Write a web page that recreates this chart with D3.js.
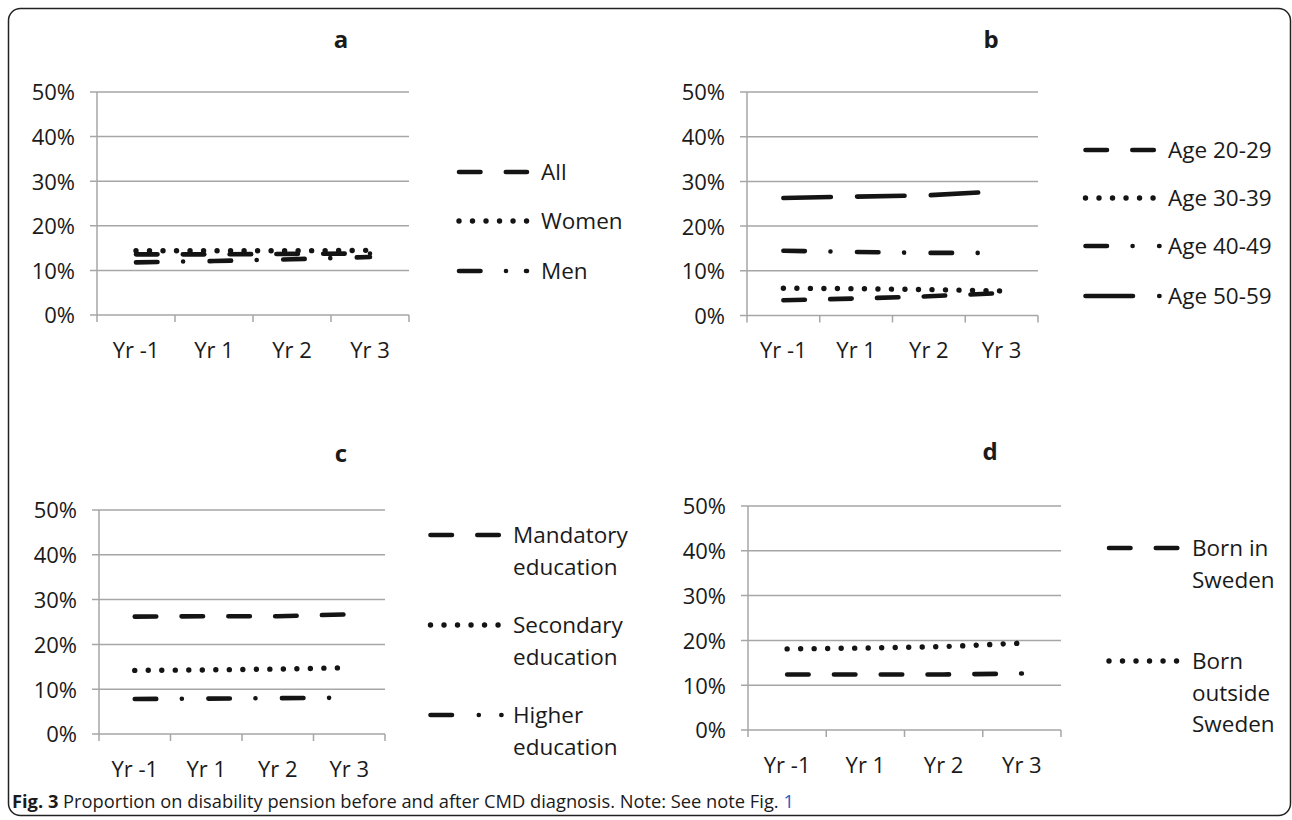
<!DOCTYPE html>
<html>
<head>
<meta charset="utf-8">
<script src="https://cdn.jsdelivr.net/npm/d3@7"></script>
<style>
  html, body { margin: 0; padding: 0; background: #fff; }
  svg { display: block; }
  text { font-family: "Open Sans", "Noto Sans", sans-serif; fill: #1a1a1a; }
</style>
</head>
<body>
<svg id="chart" width="1292" height="820"></svg>
<script>
// ---------- data ----------
const categories = ["Yr -1", "Yr 1", "Yr 2", "Yr 3"];
const yTickValues = [0, 10, 20, 30, 40, 50];

// panel a: sex
const aAll   = [13.6, 13.6, 13.7, 13.8];
const aWomen = [14.4, 14.4, 14.4, 14.5];
const aMen   = [11.8, 12.1, 12.5, 13.0];

// panel b: age groups
const bAge2029 = [3.4, 3.8, 4.3, 5.0];
const bAge3039 = [6.1, 6.0, 5.8, 5.5];
const bAge4049 = [14.5, 14.2, 14.0, 14.0];
const bAge5059 = [26.3, 26.6, 26.9, 27.8];

// panel c: education
const cMandatory = [26.2, 26.3, 26.3, 26.7];
const cSecondary = [14.2, 14.3, 14.5, 14.8];
const cHigher    = [7.8, 7.9, 8.0, 8.1];

// panel d: country of birth
const dSweden  = [12.4, 12.4, 12.4, 12.6];
const dOutside = [18.1, 18.3, 18.6, 19.4];

// ---------- styles ----------
const DASH = {
  dashed:   "21.5,25.3",
  dotted:   "0.01,13.5",
  dashdot:  "21.5,25.6,0.01,26.5",
  longdash: "47.5,26.2"
};
const WIDTH = { dashed: 4.6, dotted: 5.4, dashdot: 4.6, longdash: 4.6 };

const panels = [
  { title: "a", tx: 341, ty: 48, x0: 97, x1: 409, yTop: 92, yBot: 315,
    legX: 459, legLen: 68, legTextX: 541, lineH: 31.5,
    series: [
      { name: ["All"],   values: aAll,   dash: "dashed",  ly: 172 },
      { name: ["Women"], values: aWomen, dash: "dotted",  ly: 221 },
      { name: ["Men"],   values: aMen,   dash: "dashdot", ly: 271, legDash: "21.5,25.5,0.01,20" }
    ] },
  { title: "b", tx: 991, ty: 48, x0: 747, x1: 1038, yTop: 92, yBot: 315.5,
    legX: 1085.5, legLen: 74, legTextX: 1168, lineH: 31.5,
    series: [
      { name: ["Age 20-29"], values: bAge2029, dash: "dashed",   ly: 150 },
      { name: ["Age 30-39"], values: bAge3039, dash: "dotted",   ly: 198 },
      { name: ["Age 40-49"], values: bAge4049, dash: "dashdot",  ly: 246 },
      { name: ["Age 50-59"], values: bAge5059, dash: "longdash", ly: 296 }
    ] },
  { title: "c", tx: 341, ty: 462, x0: 99, x1: 385, yTop: 510, yBot: 734,
    legX: 430.5, legLen: 71, legTextX: 513, lineH: 31.5,
    series: [
      { name: ["Mandatory", "education"], values: cMandatory, dash: "dashed",  ly: 535 },
      { name: ["Secondary", "education"], values: cSecondary, dash: "dotted",  ly: 625 },
      { name: ["Higher", "education"],    values: cHigher,    dash: "dashdot", ly: 715, legDash: "21.5,26.8,0.01,22.5" }
    ] },
  { title: "d", tx: 990, ty: 460, x0: 748, x1: 1061, yTop: 506, yBot: 730,
    legX: 1109, legLen: 68.5, legTextX: 1192, lineH: 31.5,
    series: [
      { name: ["Born in", "Sweden"],            values: dSweden,  dash: "dashed", ly: 548 },
      { name: ["Born", "outside", "Sweden"],    values: dOutside, dash: "dotted", ly: 661 }
    ] }
];

const svg = d3.select("#chart");
const gridColor = "#a6a6a6";
const lineColor = "#141414";

// outer rounded frame
svg.append("rect")
  .attr("x", 8.5).attr("y", 8.5)
  .attr("width", 1282).attr("height", 807)
  .attr("rx", 12).attr("ry", 12)
  .attr("fill", "none").attr("stroke", "#222").attr("stroke-width", 1.5);

panels.forEach(p => {
  const g = svg.append("g");
  const x = d3.scaleBand().domain(categories).range([p.x0, p.x1]).padding(0);
  const y = d3.scaleLinear().domain([0, 50]).range([p.yBot, p.yTop]);
  const cx = c => x(c) + x.bandwidth() / 2;

  // gridlines (with left tick stub)
  g.selectAll("line.grid").data(yTickValues).join("line")
    .attr("x1", p.x0 - 7).attr("x2", p.x1)
    .attr("y1", d => y(d)).attr("y2", d => y(d))
    .attr("stroke", gridColor).attr("stroke-width", 1.5);

  // y axis line
  g.append("line")
    .attr("x1", p.x0).attr("x2", p.x0)
    .attr("y1", y(0)).attr("y2", y(50))
    .attr("stroke", gridColor).attr("stroke-width", 1.5);

  // y tick labels via axis
  const ya = g.append("g").attr("transform", `translate(${p.x0 - 22},0)`)
    .call(d3.axisLeft(y).tickValues(yTickValues).tickFormat(d => d + "%").tickSize(0).tickPadding(0));
  ya.select(".domain").remove();
  ya.selectAll("text").attr("font-size", 22).attr("font-family", "Open Sans").attr("fill", "#1a1a1a").attr("dy", "0.36em");

  // x boundary ticks
  const bounds = categories.map(c => x(c)).concat([p.x1]);
  g.selectAll("line.xt").data(bounds).join("line")
    .attr("x1", d => d).attr("x2", d => d)
    .attr("y1", y(0)).attr("y2", y(0) + 7)
    .attr("stroke", gridColor).attr("stroke-width", 1.5);

  // x labels via axis
  const xa = g.append("g").attr("transform", `translate(0,${y(0) + 27})`)
    .call(d3.axisBottom(x).tickSize(0).tickPadding(0));
  xa.select(".domain").remove();
  xa.selectAll("text").attr("font-size", 22).attr("font-family", "Open Sans").attr("fill", "#1a1a1a").attr("dy", "0.71em");

  // title
  g.append("text").attr("x", p.tx).attr("y", p.ty)
    .attr("text-anchor", "middle").attr("font-size", 24).attr("font-weight", "bold")
    .text(p.title);

  // series lines
  const line = d3.line().x((d, i) => cx(categories[i])).y(d => y(d));
  p.series.forEach(s => {
    g.append("path").datum(s.values)
      .attr("d", line)
      .attr("fill", "none").attr("stroke", lineColor).attr("stroke-width", WIDTH[s.dash])
      .attr("stroke-linecap", "round").attr("stroke-linejoin", "round")
      .attr("stroke-dasharray", DASH[s.dash]);

    // legend sample
    g.append("line")
      .attr("x1", p.legX).attr("x2", p.legX + p.legLen)
      .attr("y1", s.ly).attr("y2", s.ly)
      .attr("stroke", lineColor).attr("stroke-width", WIDTH[s.dash])
      .attr("stroke-linecap", "round")
      .attr("stroke-dasharray", s.legDash || DASH[s.dash]);

    const t = g.append("text").attr("x", p.legTextX).attr("y", s.ly + 8)
      .attr("font-size", 22.5);
    s.name.forEach((n, i) => {
      t.append("tspan").attr("x", p.legTextX).attr("dy", i === 0 ? 0 : p.lineH).text(n);
    });
  });
});

// caption
const cap = svg.append("text").attr("x", 12).attr("y", 808).attr("font-size", 18.3);
cap.append("tspan").attr("font-weight", "bold").text("Fig. 3");
cap.append("tspan").text(" Proportion on disability pension before and after CMD diagnosis. Note: See note Fig. ");
cap.append("tspan").attr("fill", "#1f5fbf").style("fill", "#1f5fbf").text("1");
</script>
</body>
</html>
